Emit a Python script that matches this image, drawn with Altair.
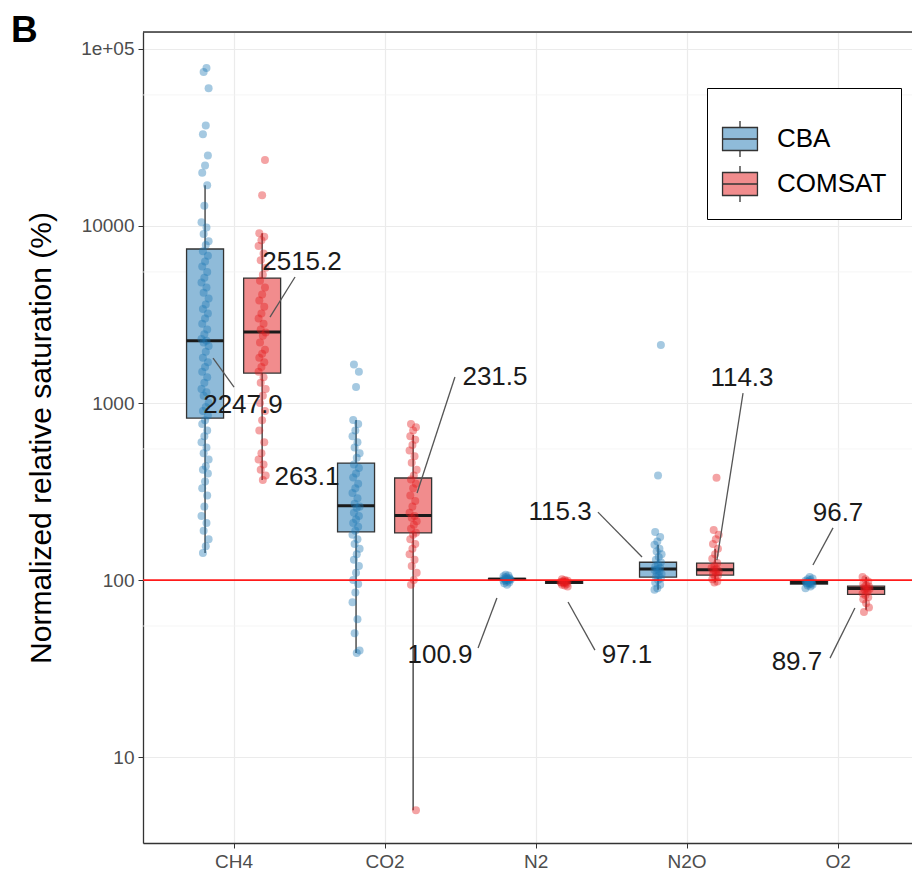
import altair as alt
import pandas as pd

gases = ["CH4", "CO2", "N2", "N2O", "O2"]
methods = ["CBA", "COMSAT"]

# individual observations (normalized relative saturation, %)
ch4_cba = [78000, 74000, 60000, 37000, 33000, 25000, 22000, 20000, 17000, 13000, 10500, 9800, 9000,
           8200, 7800, 7200, 6800, 6300, 5900, 5500, 5100, 4800, 4500, 4200, 3900, 3600, 3400, 3200,
           3000, 2800, 2600, 2450, 2300, 2250, 2200, 2100, 1950, 1800, 1700, 1600, 1500, 1400, 1300,
           1200, 1150, 1100, 1000, 950, 900, 850, 800, 760, 700, 650, 600, 560, 520, 480, 440, 420,
           400, 360, 330, 300, 260, 230, 210, 190, 170, 155, 142]
ch4_com = [23600, 14900, 9100, 8700, 8300, 7700, 7000, 6400, 5800, 5300, 4900, 4500, 4100, 3800,
           3500, 3200, 3000, 2800, 2600, 2500, 2400, 2200, 2000, 1900, 1800, 1700, 1600, 1500, 1400,
           1300, 1200, 1100, 1000, 900, 800, 700, 600, 520, 480, 450, 420, 390, 367]
co2_cba = [1650, 1500, 1230, 801, 760, 700, 650, 600, 560, 520, 490, 450, 430, 400, 380, 350, 330,
           310, 290, 270, 260, 255, 240, 230, 220, 210, 200, 190, 180, 170, 160, 150, 140, 130, 120,
           110, 100, 95, 85, 75, 60, 50, 40, 38.7]
co2_com = [760, 730, 700, 650, 620, 580, 540, 500, 460, 420, 390, 370, 350, 330, 300, 280, 260, 240,
           230, 225, 215, 205, 195, 185, 180, 170, 160, 150, 140, 130, 120, 110, 100, 94, 5.0]
n2_cba = [94, 96, 97, 98, 99, 99.5, 100, 100.5, 101, 101, 101.5, 102, 102.5, 103, 104, 105, 106, 107]
n2_com = [92, 93, 94, 95, 96, 96.5, 97, 97.2, 97.5, 98, 98.5, 99, 100, 101]
n2o_cba = [2130, 390, 187, 175, 165, 158, 150, 145, 140, 135, 130, 126, 122, 119, 117, 115, 114, 112,
           110, 108, 106, 104, 102, 100, 97, 94, 90, 88]
n2o_com = [378, 192, 180, 170, 160, 150, 140, 132, 125, 120, 117, 115, 114, 112, 110, 108, 106, 104,
           101, 98, 97]
o2_cba = [90, 92, 93, 94, 95, 95.5, 96, 96.5, 97, 97.5, 98, 99, 100, 101, 102, 104]
o2_com = [66, 70, 74, 78, 80, 82, 84, 86, 88, 89, 90, 91, 92, 93, 95, 98, 101, 104]

# box statistics, order: CH4-CBA, CH4-COMSAT, CO2-CBA, CO2-COMSAT, N2..., N2O..., O2...
box_gas = ["CH4", "CH4", "CO2", "CO2", "N2", "N2", "N2O", "N2O", "O2", "O2"]
box_method = ["CBA", "COMSAT"] * 5
whisker_low = [142, 367, 38.7, 5.0, 95, 93, 88, 97, 91, 68]
q1 = [822, 1476, 187, 184.5, 99.5, 95.9, 104, 106.7, 95, 83]
median = [2247.9, 2515.2, 263.1, 231.5, 100.9, 97.1, 115.3, 114.3, 96.7, 89.7]
q3 = [7413, 5080, 458, 377, 102.2, 98.4, 126, 124.7, 98, 92.5]
whisker_high = [17000, 9100, 801, 660, 106, 101, 158, 150, 102, 104]

# repelled median labels: label anchor and leader segment (x in category units, y in data units)
label_x = [1.062, 1.453, 1.486, 2.731, 2.367, 3.605, 3.162, 4.367, 5.003, 4.731]
label_y = [975, 6270, 382, 1403, 37.7, 37.7, 242, 1384, 239, 34.4]
seg_x1 = [0.864, 1.407, None, 2.466, 2.619, 3.215, 3.413, 4.374, 4.970, 4.950]
seg_y1 = [1795, 5150, None, 1403, 41.3, 75.1, 242, 1138, 197, 36.2]
seg_x2 = [1.003, 1.241, None, 2.215, 2.744, 3.393, 3.705, 4.201, 4.837, 5.115]
seg_y2 = [1231, 3060, None, 310, 79.1, 40.2, 134.9, 129.7, 121.6, 69.5]

minor_breaks = [55, 550, 5500, 55000]
reference_level = [100]
panel_tag = ["B"]

groups = {
    ("CH4", "CBA"): ch4_cba, ("CH4", "COMSAT"): ch4_com,
    ("CO2", "CBA"): co2_cba, ("CO2", "COMSAT"): co2_com,
    ("N2", "CBA"): n2_cba, ("N2", "COMSAT"): n2_com,
    ("N2O", "CBA"): n2o_cba, ("N2O", "COMSAT"): n2o_com,
    ("O2", "CBA"): o2_cba, ("O2", "COMSAT"): o2_com,
}
pts = pd.DataFrame([{"gas": g, "method": m, "value": v}
                    for (g, m), vals in groups.items() for v in vals])
box = pd.DataFrame({"gas": box_gas, "method": box_method, "wlo": whisker_low, "q1": q1,
                    "med": median, "q3": q3, "whi": whisker_high})
lab = pd.DataFrame({"text": [f"{m:.1f}" for m in median], "lx": label_x, "ly": label_y,
                    "sx1": seg_x1, "sy1": seg_y1, "sx2": seg_x2, "sy2": seg_y2})
seg = lab.dropna()
minor = pd.DataFrame({"v": minor_breaks})
ref = pd.DataFrame({"v": reference_level})
tag = pd.DataFrame({"t": panel_tag})

FONT = "Liberation Sans"
DODGE = 0.189
HALF = 0.1225
gas_arr = "[" + ",".join(f"'{g}'" for g in gases) + "]"
xpos_expr = f"indexof({gas_arr}, datum.gas) + 1 + (datum.method == 'CBA' ? -{DODGE} : {DODGE})"

xscale = alt.Scale(domain=[0.4, 5.493], nice=False, zero=False)
yscale = alt.Scale(type="log", domain=[3.27, 124700], nice=False)

x_axis = alt.Axis(values=[1, 2, 3, 4, 5], labelExpr=f"{gas_arr}[datum.value - 1]", title=None,
                  grid=True, gridColor="#ebebeb", gridWidth=1.2, tickColor="#333333", tickSize=5,
                  domainColor="#333333", domainWidth=1.3, labelColor="#4d4d4d", labelFontSize=19,
                  labelFont=FONT, labelPadding=4)
y_axis = alt.Axis(values=[10, 100, 1000, 10000, 100000],
                  labelExpr="datum.value >= 100000 ? '1e+05' : format(datum.value, 'd')",
                  title="Normalized relative saturation (%)", grid=True, gridColor="#ebebeb",
                  gridWidth=1.2, tickColor="#333333", tickSize=5, domainColor="#333333",
                  domainWidth=1.3, labelColor="#4d4d4d", labelFontSize=19, labelFont=FONT,
                  labelPadding=4, titleFont=FONT, titleFontSize=30, titleFontWeight="normal",
                  titleColor="black", titlePadding=24)

X = lambda f: alt.X(f, scale=xscale, axis=x_axis)
Y = lambda f: alt.Y(f, scale=yscale, axis=y_axis)

minor_layer = alt.Chart(minor).mark_rule(color="#f2f2f2", strokeWidth=0.8).encode(y=Y("v:Q"))

base_box = alt.Chart(box).transform_calculate(xpos=xpos_expr).transform_calculate(
    xl=f"datum.xpos - {HALF}", xr=f"datum.xpos + {HALF}")

whisk_lo = base_box.mark_rule(color="#333333", strokeWidth=1.3).encode(
    x=X("xpos:Q"), y=Y("wlo:Q"), y2="q1:Q")
whisk_hi = base_box.mark_rule(color="#333333", strokeWidth=1.3).encode(
    x=X("xpos:Q"), y=Y("q3:Q"), y2="whi:Q")

legend = alt.Legend(title=" ", orient="none", legendX=564, legendY=56, padding=14,
                    titleFontSize=14, titlePadding=4,
                    symbolType="M-0.97,-0.64H0.97V0.64H-0.97Z M-0.97,0H0.97 M0,-0.64V-1 M0,0.64V1",
                    symbolSize=1296, symbolStrokeColor="#333333", symbolStrokeWidth=1.3,
                    labelFontSize=26, labelFont=FONT, labelColor="black", labelOffset=18,
                    rowPadding=3, strokeColor="black", fillColor="white")

boxes = base_box.mark_bar(stroke="#333333", strokeWidth=1.3).encode(
    x=X("xl:Q"), x2="xr:Q", y=Y("q1:Q"), y2="q3:Q",
    color=alt.Color("method:N", scale=alt.Scale(domain=methods, range=["#8fbbd9", "#f18c8d"]),
                    legend=legend))
medians = base_box.mark_rule(color="#1a1a1a", strokeWidth=3).encode(
    x=X("xl:Q"), x2="xr:Q", y=Y("med:Q"))

points = alt.Chart(pts).transform_window(rn="row_number()").transform_calculate(
    xpos=xpos_expr).transform_calculate(
    jx="datum.xpos + ((datum.rn * 7) % 11 - 5) * 0.0047").mark_circle(size=64, opacity=0.4).encode(
    x=X("jx:Q"), y=Y("value:Q"),
    color=alt.Color("method:N", scale=alt.Scale(domain=methods, range=["#1f77b4", "#e41a1c"]),
                    legend=None))

ref_line = alt.Chart(ref).mark_rule(color="#ff1a1a", strokeWidth=1.8).encode(y=Y("v:Q"))

segments = alt.Chart(seg).mark_rule(color="#555555", strokeWidth=1.3).encode(
    x=X("sx1:Q"), x2="sx2:Q", y=Y("sy1:Q"), y2="sy2:Q")

labels = alt.Chart(lab).mark_text(font=FONT, fontSize=26, color="#1a1a1a", baseline="middle",
                                  align="center").encode(
    x=X("lx:Q"), y=Y("ly:Q"), text="text:N")

top_border = alt.Chart(ref).mark_rule(color="#333333", strokeWidth=1.3).encode(y=alt.value(0))

tag_layer = alt.Chart(tag).mark_text(font=FONT, fontSize=37, fontWeight="bold", color="black",
                                     align="left", baseline="alphabetic").encode(
    text="t:N", x=alt.value(-132), y=alt.value(10))

chart = alt.layer(minor_layer, whisk_lo, whisk_hi, boxes, medians, points, ref_line, segments,
                  labels, top_border, tag_layer).resolve_scale(color="independent").properties(
    width=769, height=811,
    autosize=alt.AutoSizeParams(type="none"),
    padding={"left": 135, "top": 24, "right": 0, "bottom": 34},
).configure_view(stroke=None).configure(background="white")

chart.save("out.html", embed_options={"renderer": "svg", "actions": False})
